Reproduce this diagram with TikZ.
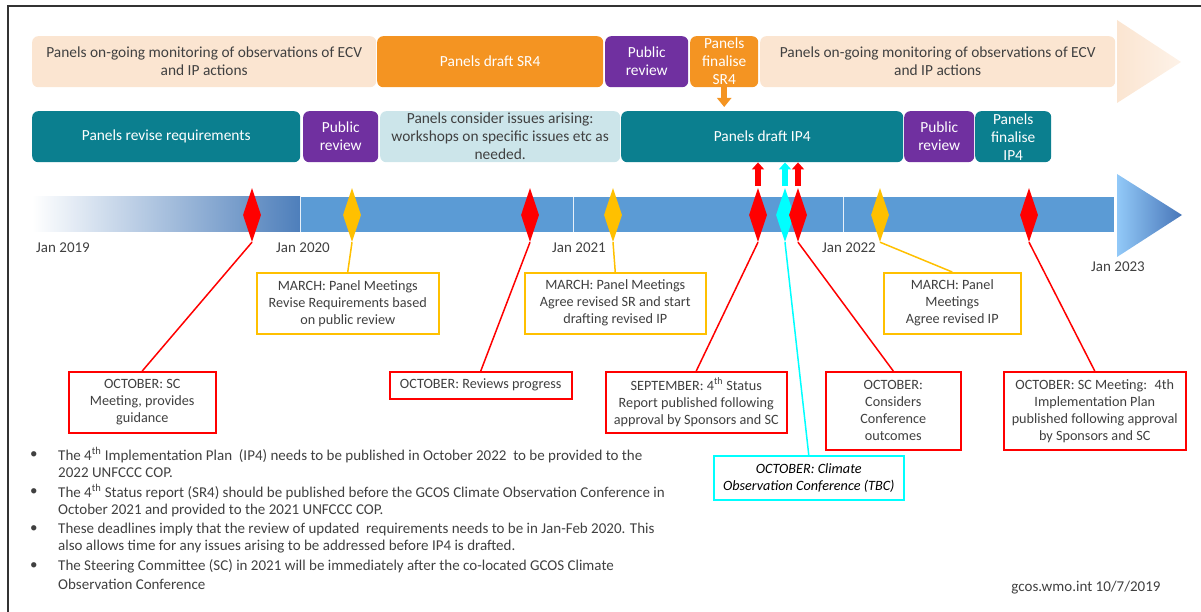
\documentclass[tikz,border=0pt]{standalone}
\usepackage{fontspec}
\setmainfont{Carlito}
\usetikzlibrary{arrows.meta,shapes.geometric}
\definecolor{peach}{HTML}{FBE5D1}
\definecolor{orangec}{HTML}{F49422}
\definecolor{purplec}{HTML}{7030A0}
\definecolor{tealc}{HTML}{0B7F8F}
\definecolor{lblue}{HTML}{CCE5EA}
\definecolor{barblue}{HTML}{5B9BD5}
\definecolor{bardark}{HTML}{4E7FBB}
\definecolor{redc}{HTML}{FF0000}
\definecolor{yelc}{HTML}{FFC000}
\definecolor{cyanc}{HTML}{00FFFF}
\definecolor{txt}{HTML}{404040}
\definecolor{framec}{HTML}{333333}
\begin{document}
\begin{tikzpicture}[x=1pt,y=-1pt,
  bx/.style={rounded corners=6pt, inner sep=1pt, align=center, anchor=north west,
    font=\fontsize{15.4}{18}\selectfont, text=white},
  tb/.style={bx},
  cb/.style={draw, line width=1.5pt, fill=white, text=txt, align=center, anchor=north west,
    inner sep=2pt, font=\fontsize{14.2}{17}\selectfont},
  dia/.style={diamond, minimum width=18pt, minimum height=54pt, inner sep=0pt},
  conn/.style={line width=1.5pt},
  uparr/.style={line width=6pt, -{Triangle[width=12pt,length=7pt]}},
  yl/.style={text=txt, font=\fontsize{15}{15}\selectfont, inner sep=0pt},
  bl/.style={text=txt, font=\fontsize{15}{15}\selectfont, inner sep=0pt, anchor=west},
]
\useasboundingbox (0,0) rectangle (1201,612);
% frame
\draw[framec, line width=1.2pt] (8,612) -- (8,6) -- (1201,6);

% top row
\node[tb, fill=peach, text=txt, minimum width=344pt, minimum height=51pt] (t1) at (32,36)
  {Panels on-going monitoring of observations of ECV\\and IP actions};
\node[bx, fill=orangec, minimum width=226pt, minimum height=51pt] (t2) at (377,36) {Panels draft SR4};
\node[bx, fill=purplec, minimum width=83pt, minimum height=51pt] (t3) at (605,36) {Public\\review};
\node[bx, fill=orangec, minimum width=68pt, minimum height=51pt, inner sep=0pt] (t4) at (690,36) {Panels\\finalise\\SR4};
\node[tb, fill=peach, text=txt, minimum width=355pt, minimum height=51pt] (t5) at (760,36)
  {Panels on-going monitoring of observations of ECV\\and IP actions};
\shade[left color=peach, right color=peach!50!white] (1117,20) -- (1181,62) -- (1117,103) -- cycle;

% second row
\node[bx, fill=tealc, minimum width=268pt, minimum height=51pt] (r1) at (32,111) {Panels revise requirements};
\node[bx, fill=purplec, minimum width=75pt, minimum height=51pt] (r2) at (303,111) {Public\\review};
\node[bx, fill=lblue, text=txt, minimum width=240pt, minimum height=51pt, inner sep=0pt] (r3) at (380,111)
  {Panels consider issues arising:\\workshops on specific issues etc as\\needed.};
\node[bx, fill=tealc, minimum width=282pt, minimum height=51pt] (r4) at (621,111) {Panels draft IP4};
\node[bx, fill=purplec, minimum width=70pt, minimum height=51pt] (r5) at (904,111) {Public\\review};
\node[bx, fill=tealc, minimum width=76pt, minimum height=51pt, inner sep=0pt] (r6) at (975,111) {Panels\\finalise\\IP4};

\draw[orangec, line width=6pt, -{Triangle[width=14pt,length=9pt]}, shorten >=4pt] (t4.south) -- (t4.south |- r4.north);

% timeline bar
\shade[left color=white, right color=bardark] (32,197) rectangle (300,232);
\fill[barblue] (300,197) rectangle (1114,232);
\draw[white!85!barblue, line width=1pt] (300,197) -- (300,232);
\draw[white!85!barblue, line width=1pt] (573,197) -- (573,232);
\draw[white!85!barblue, line width=1pt] (843,197) -- (843,232);
\shade[left color={rgb,255:red,146;green,201;blue,248}, right color={rgb,255:red,72;green,118;blue,184}]
  (1117,174) -- (1182,215) -- (1117,257) -- cycle;

% year labels
\node[yl] (y19) at (63,248) {Jan 2019};
\node[yl] (y20) at (303,248) {Jan 2020};
\node[yl] (y21) at (579,248) {Jan 2021};
\node[yl] (y22) at (849,248) {Jan 2022};
\node[yl] (y23) at (1118,267) {Jan 2023};

% diamonds
\node[dia, fill=redc] (d1) at (252,215) {};
\node[dia, fill=yelc] (d2) at (352,215) {};
\node[dia, fill=redc] (d3) at (530,215) {};
\node[dia, fill=yelc] (d4) at (613,215) {};
\node[dia, fill=redc] (d5) at (758,215) {};
\node[dia, fill=cyanc] (d6) at (785,215) {};
\node[dia, fill=redc] (d7) at (798,215) {};
\node[dia, fill=yelc] (d8) at (880,215) {};
\node[dia, fill=redc] (d9) at (1029,215) {};

% small up arrows
\draw[uparr, redc] ([yshift=2pt]d5.north) -- (d5.north |- r4.south);
\draw[uparr, cyanc] ([yshift=2pt]d6.north) -- (d6.north |- r4.south);
\draw[uparr, redc] ([yshift=2pt]d7.north) -- (d7.north |- r4.south);

% callouts
\node[cb, draw=redc, minimum width=147pt, minimum height=61pt] (c1) at (68,371) {OCTOBER: SC\\Meeting, provides\\guidance};
\node[cb, draw=yelc, minimum width=182pt, minimum height=61pt] (c2) at (256,272) {MARCH: Panel Meetings\\Revise Requirements based\\on public review};
\node[cb, draw=redc, minimum width=182pt, minimum height=27pt] (c3) at (389,371) {OCTOBER: Reviews progress};
\node[cb, draw=yelc, minimum width=181pt, minimum height=61pt] (c4) at (524,272) {MARCH: Panel Meetings\\Agree revised SR and start\\drafting revised IP};
\node[cb, draw=redc, minimum width=181pt, minimum height=61pt] (c5) at (605,371) {SEPTEMBER: 4\textsuperscript{th} Status\\Report published following\\approval by Sponsors and SC};
\node[cb, draw=cyanc, text=black, minimum width=190pt, minimum height=44pt, font=\fontsize{14.2}{17}\selectfont\itshape] (c6) at (713,455) {OCTOBER: Climate\\Observation Conference (TBC)};
\node[cb, draw=redc, minimum width=135pt, minimum height=78pt] (c7) at (825,371) {OCTOBER:\\Considers\\Conference\\outcomes};
\node[cb, draw=yelc, minimum width=137pt, minimum height=61pt] (c8) at (883,272) {MARCH: Panel\\Meetings\\Agree revised IP};
\node[cb, draw=redc, minimum width=182pt, minimum height=78pt] (c9) at (1003,371) {OCTOBER: SC Meeting:~ 4th\\Implementation Plan\\published following approval\\by Sponsors and SC};

% connectors
\draw[conn, redc] (d1.south) -- (c1.north);
\draw[conn, yelc] (d2.south) -- (c2.north);
\draw[conn, redc] (d3.south) -- (c3.north);
\draw[conn, yelc] (d4.south) -- (c4.north);
\draw[conn, redc] (d5.south) -- (c5.north);
\draw[conn, cyanc] (d6.south) -- (c6.north);
\draw[conn, redc] (d7.south) -- (c7.north);
\draw[conn, yelc] (d8.south) -- (c8.north);
\draw[conn, redc] (d9.south) -- (c9.north);

% bullets
\node[bl] (p1) at (30,455) {•};
\node[bl] (l1a) at (58,455) {The 4\textsuperscript{th} Implementation Plan~ (IP4) needs to be published in October 2022~ to be provided to the};
\node[bl] (l1b) at (58,473) {2022 UNFCCC COP.};
\node[bl] (p2) at (30,492) {•};
\node[bl] (l2a) at (58,492) {The 4\textsuperscript{th} Status report (SR4) should be published before the GCOS Climate Observation Conference in};
\node[bl] (l2b) at (58,510) {October 2021 and provided to the 2021 UNFCCC COP.};
\node[bl] (p3) at (30,529) {•};
\node[bl] (l3a) at (58,529) {These deadlines imply that the review of updated~ requirements needs to be in Jan-Feb 2020. This};
\node[bl] (l3b) at (58,547) {also allows time for any issues arising to be addressed before IP4 is drafted.};
\node[bl] (p4) at (30,566) {•};
\node[bl] (l4a) at (58,566) {The Steering Committee (SC) in 2021 will be immediately after the co-located GCOS Climate};
\node[bl] (l4b) at (58,584) {Observation Conference};

\node[yl] (foot) at (1086,588) {gcos.wmo.int 10/7/2019};
\end{tikzpicture}
\end{document}
